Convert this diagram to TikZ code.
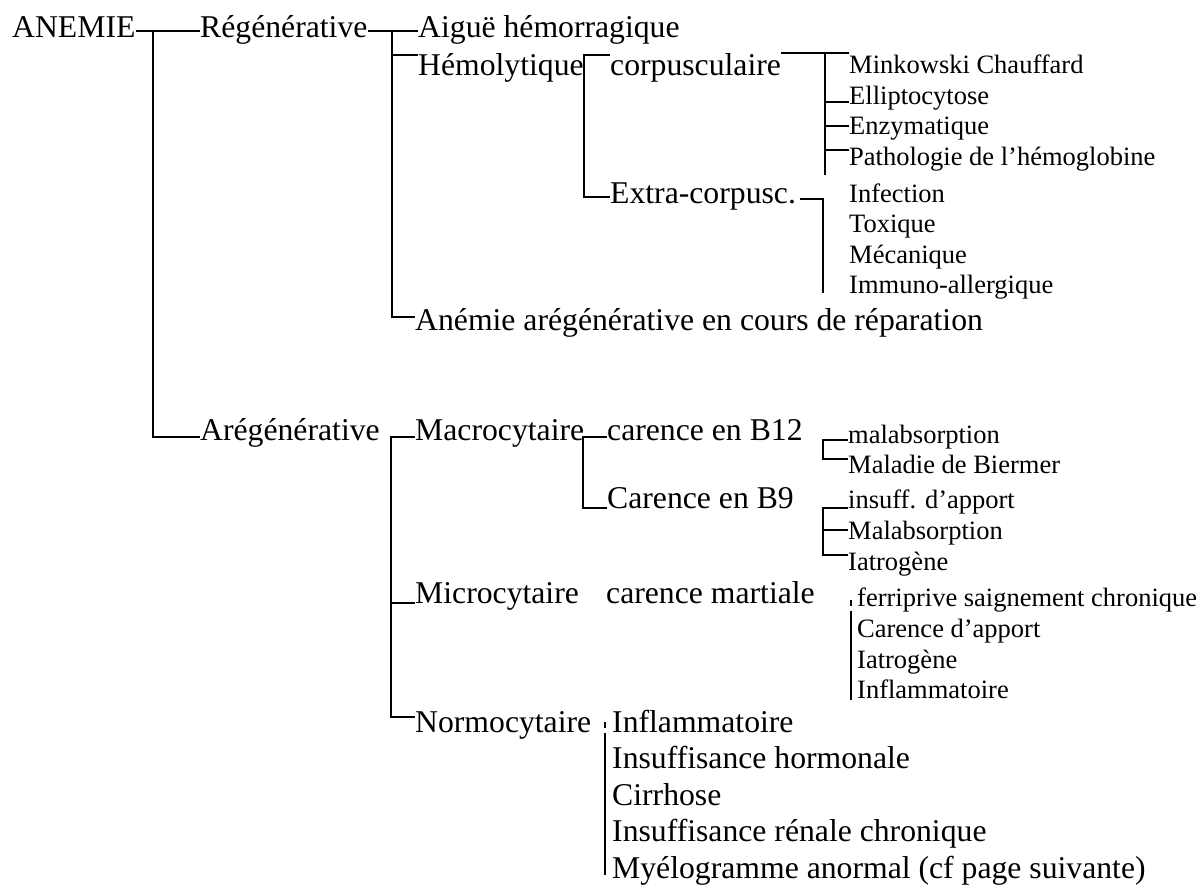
\documentclass[tikz,border=0pt]{standalone}
\usepackage{fontspec}
\setmainfont{Liberation Serif}
\begin{document}
\begin{tikzpicture}[x=1pt,y=-1pt,
  big/.style={font=\fontsize{31.7}{38}\selectfont, inner sep=0pt, anchor=base west},
  small/.style={font=\fontsize{26.5}{32}\selectfont, inner sep=0pt, anchor=base west},
  ln/.style={line width=1.4pt, line cap=butt}]
\useasboundingbox (0,0) rectangle (1200,887);
% nodes
\node[big] (anemie) at (12,37) {ANEMIE};
\node[big] (regen) at (200,37) {Régénérative};
\node[big] (aigue) at (418,37) {Aiguë hémorragique};
\node[big] (hemo) at (418,75) {Hémolytique};
\node[big] (corp) at (610,75) {corpusculaire};
\node[big] (extra) at (610,203) {Extra-corpusc.};
\node[big] (anreg) at (415,330) {Anémie arégénérative en cours de réparation};
\node[small] (mink) at (849,73) {Minkowski Chauffard};
\node[small] (ellip) at (849,104) {Elliptocytose};
\node[small] (enzy) at (849,134.5) {Enzymatique};
\node[small] (patho) at (849,165) {Pathologie de l’hémoglobine};
\node[small] (infec) at (849,202) {Infection};
\node[small] (toxi) at (849,232.5) {Toxique};
\node[small] (meca) at (849,263) {Mécanique};
\node[small] (immu) at (849,293.5) {Immuno-allergique};
\node[big] (areg) at (200,440) {Arégénérative};
\node[big] (macro) at (415,440) {Macrocytaire};
\node[big] (b12) at (607,440) {carence en B12};
\node[big] (b9) at (607,508) {Carence en B9};
\node[big] (micro) at (415,603) {Microcytaire};
\node[big] (mart) at (606,603) {carence martiale};
\node[big] (normo) at (415,732) {Normocytaire};
\node[small] (malab1) at (848,443) {malabsorption};
\node[small] (bier) at (848,473) {Maladie de Biermer};
\node[small] (insuf) at (848,508) {insuff. d’apport};
\node[small] (malab2) at (848,539.5) {Malabsorption};
\node[small] (iatro1) at (848,570) {Iatrogène};
\node[small] (ferri) at (857,606) {ferriprive saignement chronique};
\node[small] (carap) at (857,637) {Carence d’apport};
\node[small] (iatro2) at (857,668) {Iatrogène};
\node[small] (infl1) at (857,698) {Inflammatoire};
\node[big] (infl2) at (612,732) {Inflammatoire};
\node[big] (horm) at (612,768.5) {Insuffisance hormonale};
\node[big] (cirr) at (612,805) {Cirrhose};
\node[big] (ren) at (612,841.5) {Insuffisance rénale chronique};
\node[big] (myelo) at (612,878) {Myélogramme anormal (cf page suivante)};
% ANEMIE
\coordinate (a1) at (153,31); \coordinate (a2) at (153,437);
\draw[ln] (anemie.east|-a1) -- (regen.west|-a1);
\draw[ln] (a1) -- (a2) -- (areg.west|-a2);
% Regenerative
\coordinate (r1) at (392,31); \coordinate (r2) at (392,55); \coordinate (r3) at (392,317);
\draw[ln] (regen.east|-r1) -- (aigue.west|-r1);
\draw[ln] (r1) -- (r3) -- (anreg.west|-r3);
\draw[ln] (r2) -- (hemo.west|-r2);
% Hemolytique
\coordinate (h1) at (584,55); \coordinate (h2) at (584,197);
\draw[ln] (corp.west|-h1) -- (h1) -- (h2) -- (extra.west|-h2);
% corpusculaire
\coordinate (c0) at (825,53); \coordinate (c1) at (825,175);
\coordinate (c2) at (825,102); \coordinate (c3) at (825,126); \coordinate (c4) at (825,150);
\draw[ln] (corp.east|-c0) -- (mink.west|-c0);
\draw[ln] (c0) -- (c1);
\draw[ln] (c2) -- (ellip.west|-c2);
\draw[ln] (c3) -- (enzy.west|-c3);
\draw[ln] (c4) -- (patho.west|-c4);
% extra-corpusc
\coordinate (e0) at (800,199); \coordinate (e1) at (823,199); \coordinate (e2) at (823,293);
\draw[ln] (e0) -- (e1) -- (e2);
% Aregenerative
\coordinate (g1) at (391,437); \coordinate (g2) at (391,603); \coordinate (g3) at (391,717);
\draw[ln] (macro.west|-g1) -- (g1) -- (g3) -- (normo.west|-g3);
\draw[ln] (g2) -- (micro.west|-g2);
% Macrocytaire
\coordinate (m1) at (583,437); \coordinate (m2) at (583,508);
\draw[ln] (b12.west|-m1) -- (m1) -- (m2) -- (b9.west|-m2);
% B12
\coordinate (p1) at (823,440); \coordinate (p2) at (823,459);
\draw[ln] (malab1.west|-p1) -- (p1) -- (p2) -- (bier.west|-p2);
% B9
\coordinate (q1) at (823,508); \coordinate (q2) at (823,530); \coordinate (q3) at (823,555);
\draw[ln] (insuf.west|-q1) -- (q1) -- (q3) -- (iatro1.west|-q3);
\draw[ln] (q2) -- (malab2.west|-q2);
% carence martiale
\coordinate (f0) at (851,600); \coordinate (f1) at (851,606);
\coordinate (f2) at (851,611); \coordinate (f3) at (851,700);
\draw[ln] (f0) -- (f1);
\draw[ln] (f2) -- (f3);
% Normocytaire
\coordinate (n0) at (605,722); \coordinate (n1) at (605,728);
\coordinate (n2) at (605,733); \coordinate (n3) at (605,875);
\draw[ln] (n0) -- (n1);
\draw[ln] (n2) -- (n3);
\end{tikzpicture}
\end{document}
